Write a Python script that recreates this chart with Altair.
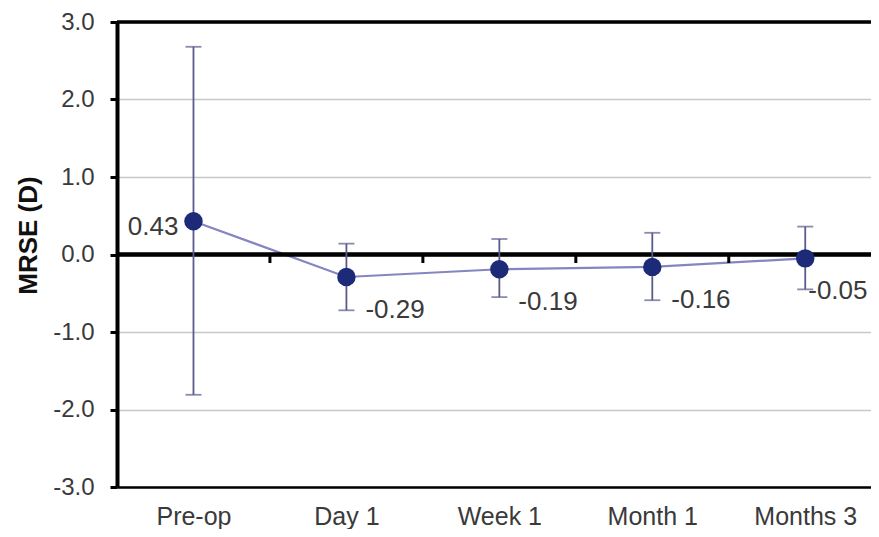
import altair as alt
import pandas as pd
import json

categories = ["Pre-op", "Day 1", "Week 1", "Month 1", "Months 3"]
means = [0.43, -0.29, -0.19, -0.16, -0.05]
upper = [2.68, 0.14, 0.20, 0.28, 0.36]
lower = [-1.81, -0.72, -0.55, -0.59, -0.45]
labels = ["0.43", "-0.29", "-0.19", "-0.16", "-0.05"]
boundaries = [0.5, 1.5, 2.5, 3.5]
y_ticks = [-3, -2, -1, 0, 1, 2, 3]

df = pd.DataFrame({
    "idx": list(range(len(categories))),
    "cat": categories,
    "mean": means,
    "hi": upper,
    "lo": lower,
    "label": labels,
})
bdf = pd.DataFrame({"b": boundaries, "y0": [0.0] * len(boundaries), "y1": [-0.11] * len(boundaries)})

FONT = "Liberation Sans"
label_js = json.dumps(categories)

xscale = alt.Scale(domain=[-0.5, 4.43], nice=False, zero=False)
yscale = alt.Scale(domain=[-3, 3], nice=False, zero=False)

x_enc = alt.X("idx:Q", scale=xscale, axis=alt.Axis(
    values=list(range(len(categories))), labelExpr=f"{label_js}[datum.value]",
    title=None, grid=False, ticks=False, domain=True, domainColor="black", domainWidth=2.5,
    labelFont=FONT, labelFontSize=25, labelColor="#3a3a3a", labelPadding=17))
y_enc = alt.Y("mean:Q", scale=yscale, axis=alt.Axis(
    values=y_ticks, labelExpr="replace(format(datum.value, '.1f'), '\u2212', '-')",
    title="MRSE (D)", titleFont=FONT, titleFontSize=26,
    titleFontWeight="bold", titleColor="#111111", titleAngle=270, titleX=-89, titleY=213,
    titleAlign="center", titleBaseline="middle",
    labelFont=FONT, labelFontSize=24, labelColor="#3a3a3a", labelPadding=16,
    tickSize=7, tickColor="black", tickWidth=3, domainColor="black", domainWidth=4,
    grid=True, gridColor="#c8c8c8", gridWidth=1.5))

base = alt.Chart(df)

line = base.mark_line(color="#8585c2", strokeWidth=2.2).encode(x=x_enc, y=y_enc)

zero_rule = alt.Chart(df).mark_rule(color="black", strokeWidth=3.5).encode(y=alt.datum(0))
top_rule = alt.Chart(df).mark_rule(color="black", strokeWidth=2.5).encode(y=alt.datum(3))

small_ticks = alt.Chart(bdf).mark_rule(color="black", strokeWidth=3).encode(
    x=alt.X("b:Q", scale=xscale), y=alt.Y("y0:Q", scale=yscale), y2="y1:Q")

err_color = "#5a5a8e"
err = base.mark_rule(color=err_color, strokeWidth=1.8).encode(
    x=alt.X("idx:Q", scale=xscale), y=alt.Y("lo:Q", scale=yscale), y2="hi:Q")
cap_hi = base.mark_tick(color=err_color, thickness=1.8, size=16, orient="horizontal").encode(
    x=alt.X("idx:Q", scale=xscale), y=alt.Y("hi:Q", scale=yscale))
cap_lo = base.mark_tick(color=err_color, thickness=1.8, size=16, orient="horizontal").encode(
    x=alt.X("idx:Q", scale=xscale), y=alt.Y("lo:Q", scale=yscale))

points = base.mark_circle(size=340, color="#1c2a78", opacity=1).encode(
    x=alt.X("idx:Q", scale=xscale), y=alt.Y("mean:Q", scale=yscale))

txt_style = dict(baseline="middle", font=FONT, fontSize=26, color="#3a3a3a")
txt_first = base.transform_filter("datum.idx == 0").mark_text(
    align="right", dx=-15, dy=6, **txt_style).encode(
    x=alt.X("idx:Q", scale=xscale), y=alt.Y("mean:Q", scale=yscale), text="label:N")
txt_mid = base.transform_filter("datum.idx > 0 && datum.idx < 4").mark_text(
    align="left", dx=19, dy=33, **txt_style).encode(
    x=alt.X("idx:Q", scale=xscale), y=alt.Y("mean:Q", scale=yscale), text="label:N")
txt_last = base.transform_filter("datum.idx == 4").mark_text(
    align="left", dx=3, dy=33, **txt_style).encode(
    x=alt.X("idx:Q", scale=xscale), y=alt.Y("mean:Q", scale=yscale), text="label:N")

chart = alt.layer(
    line, zero_rule, top_rule, small_ticks, err, cap_hi, cap_lo, points, txt_first, txt_mid, txt_last
).properties(
    width=754, height=465,
    autosize=alt.AutoSizeParams(type="none"),
    padding={"left": 109, "top": 14, "right": 0, "bottom": 42},
).configure_view(stroke=None).configure(background="white")

chart.save("out.html", embed_options={"renderer": "svg", "actions": False})
